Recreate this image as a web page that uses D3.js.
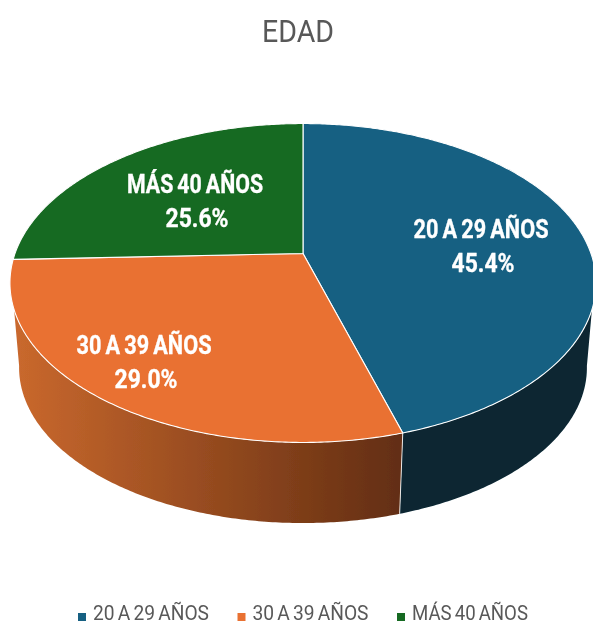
<!DOCTYPE html>
<html><head><meta charset="utf-8">
<style>html,body{margin:0;padding:0;background:#fff;overflow:hidden}svg{display:block}
text{font-family:"Roboto","Liberation Sans",sans-serif;word-spacing:-1.5px}</style>
<script src="https://cdn.jsdelivr.net/npm/d3@7/dist/d3.min.js"></script>
</head><body><div id="c"></div>
<script>
const categories = ["20 A 29 AÑOS", "30 A 39 AÑOS", "MÁS 40 AÑOS"];
const values = [45.4, 29.0, 25.6];
const colors = ["#156082", "#E97132", "#196B24"];
const title = "EDAD";

const W = 593, H = 624;
const svg = d3.select("#c").append("svg").attr("width", W).attr("height", H);
const defs = svg.append("defs");
defs.append("filter").attr("id", "soft").attr("x", "-5%").attr("y", "-5%").attr("width", "110%").attr("height", "110%")
  .append("feGaussianBlur").attr("stdDeviation", 0.5);
const soft = svg.append("g").attr("filter", "url(#soft)");

const color = d3.scaleOrdinal(categories, colors);
const pie = d3.pie().sort(null).value((d, i) => values[i]).startAngle(0).endAngle(2 * Math.PI);
const arcs = pie(categories);

// Perspective projection of the disc: back of the pie is foreshortened
const persp = 0.185, cx = 303;
const project = (a, o) => {
  const X = Math.sin(a), Z = Math.cos(a), w = 1 + persp * Z;
  return [cx + o.A * X / w, o.y0 - o.B * Z / w];
};
const topDisc = {A: 288, B: 154, y0: 253.5};
const botDisc = {A: 279, B: 150, y0: 339};
const rad = d => d * Math.PI / 180;
const topFront = [rad(110), rad(250)], botFront = [rad(100), rad(260)];

const arcPts = (a0, a1, o) => {
  const n = Math.max(2, Math.ceil(Math.abs(a1 - a0) / 0.01));
  return d3.range(n + 1).map(i => project(a0 + (a1 - a0) * i / n, o));
};
const line = d3.line();

// Side wall gradients
const shades = [["#082532", "#082532"], ["#c9682d", "#632e12"], ["#0d3a13", "#0d3a13"]];
categories.forEach((c, i) => {
  const g = defs.append("linearGradient").attr("id", "side" + i)
    .attr("gradientUnits", "userSpaceOnUse")
    .attr("x1", i === 0 ? 400 : 17).attr("x2", i === 0 ? 593 : 400).attr("y1", 0).attr("y2", 0);
  g.append("stop").attr("offset", 0).attr("stop-color", shades[i][0]);
  g.append("stop").attr("offset", 1).attr("stop-color", shades[i][1]);
});

// Side walls (only the front part of the rim is visible)
arcs.forEach((d, i) => {
  const t0 = Math.max(d.startAngle, topFront[0]), t1 = Math.min(d.endAngle, topFront[1]);
  const b0 = Math.max(d.startAngle, botFront[0]), b1 = Math.min(d.endAngle, botFront[1]);
  if (t1 <= t0 && b1 <= b0) return;
  const topEdge = arcPts(t0, t1, topDisc);
  const botEdge = arcPts(b1, b0, botDisc);
  soft.append("path").attr("d", line(topEdge.concat(botEdge)) + "Z")
    .attr("fill", `url(#side${i})`);
});
// Seam between the two visible walls
const seam = arcs[0].endAngle;
soft.append("path").attr("d", line([project(seam, topDisc), project(seam, botDisc)]))
  .attr("stroke", "#fff").attr("stroke-width", 1).attr("stroke-opacity", .85).attr("fill", "none");

// Top face
arcs.forEach((d, i) => {
  const pts = [[cx, topDisc.y0]].concat(arcPts(d.startAngle, d.endAngle, topDisc));
  soft.append("path").attr("d", line(pts) + "Z")
    .attr("fill", color(categories[i])).attr("stroke", "#fff").attr("stroke-width", 1.1)
    .attr("stroke-linejoin", "round");
});

// Data labels
const labelPos = [[481, 229, 263, 135, 63], [144, 345, 379, 135, 63], [195, 184, 218, 136, 63]];
const pct = d3.format(".1f");
const labels = soft.append("g").attr("fill", "#fff").attr("stroke", "#fff").attr("stroke-width", 0.35)
  .attr("font-weight", 700).attr("font-size", 26).attr("text-anchor", "middle").attr("dominant-baseline", "central");
categories.forEach((c, i) => {
  const p = labelPos[i];
  labels.append("text").attr("x", p[0]).attr("y", p[1]).attr("textLength", p[3])
    .attr("lengthAdjust", "spacingAndGlyphs").text(c);
  labels.append("text").attr("x", p[0] + 2).attr("y", p[2]).attr("textLength", p[4])
    .attr("lengthAdjust", "spacingAndGlyphs").text(pct(values[i]) + "%");
});

// Title
soft.append("text").attr("x", 298).attr("y", 42).attr("text-anchor", "middle")
  .attr("font-size", 31).attr("fill", "#595959").attr("textLength", 72)
  .attr("lengthAdjust", "spacingAndGlyphs").text(title);

// Legend
const legendX = d3.scalePoint(categories, [78, 397]);
const legend = soft.selectAll("g.legend").data(categories).join("g").attr("class", "legend")
  .attr("transform", d => `translate(${legendX(d)},0)`);
legend.append("rect").attr("y", 613).attr("width", 8).attr("height", 8).attr("fill", d => color(d));
legend.append("text").attr("transform", "translate(15,619.5) scale(1,1.15)").attr("font-size", 18).attr("fill", "#595959")
  .attr("textLength", 116).attr("lengthAdjust", "spacingAndGlyphs").text(d => d);
</script></body></html>
